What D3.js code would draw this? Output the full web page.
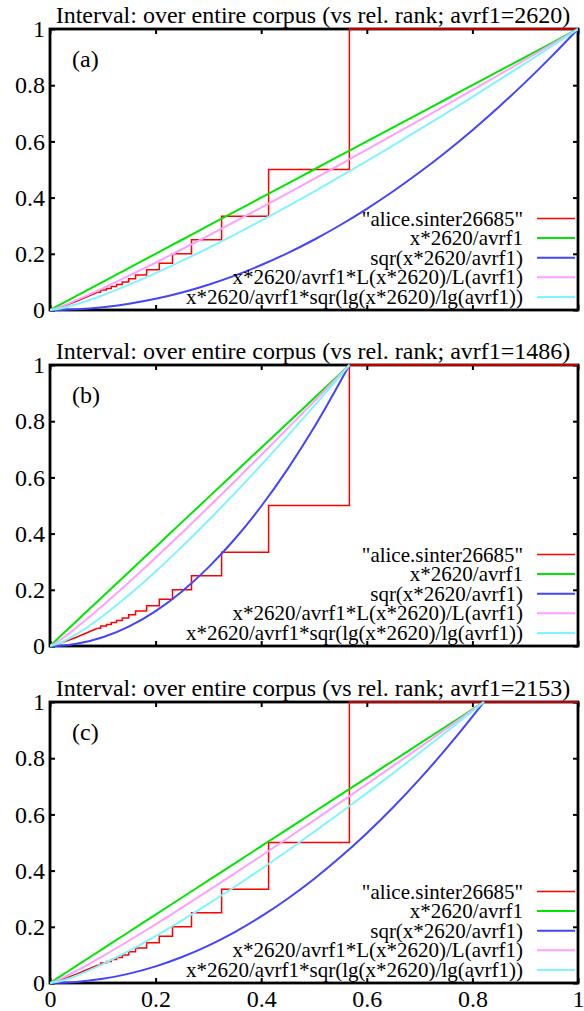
<!DOCTYPE html>
<html><head><meta charset="utf-8">
<script src="https://cdn.jsdelivr.net/npm/d3@7"></script>
<style>
body{margin:0;background:#fff}
svg{display:block}
text{font-family:"Liberation Serif","Times New Roman",serif;fill:#000}
</style>
</head><body>
<svg id="chart" width="584" height="1011"></svg>
<script>
// ---------------- data ----------------
const xTicks = [0, 0.2, 0.4, 0.6, 0.8, 1];
const xTickLabels = ["0", "0.2", "0.4", "0.6", "0.8", "1"];
const yTicks = [0, 0.2, 0.4, 0.6, 0.8, 1];
const yTickLabels = ["0", "0.2", "0.4", "0.6", "0.8", "1"];

const panelTitles = [
  "Interval: over entire corpus (vs rel. rank; avrf1=2620)",
  "Interval: over entire corpus (vs rel. rank; avrf1=1486)",
  "Interval: over entire corpus (vs rel. rank; avrf1=2153)"
];
const panelLabels = ["(a)", "(b)", "(c)"];
const seriesNames = [
  "\"alice.sinter26685\"",
  "x*2620/avrf1",
  "sqr(x*2620/avrf1)",
  "x*2620/avrf1*L(x*2620)/L(avrf1)",
  "x*2620/avrf1*sqr(lg(x*2620)/lg(avrf1))"
];

// measured staircase (same file in all three panels)
const redSmoothX = [0, 0.01, 0.02, 0.03, 0.04, 0.05, 0.06, 0.07, 0.08, 0.09];
const redSmoothY = [0, 0.005, 0.011, 0.017, 0.024, 0.031, 0.039, 0.047, 0.055, 0.063];
const redStepX = [0.09, 0.096, 0.107, 0.116, 0.126, 0.137, 0.149, 0.162, 0.183, 0.207, 0.232, 0.268, 0.325, 0.414, 0.567, 1];
const redStepY = [0.063, 0.0714, 0.0769, 0.0833, 0.0909, 0.1, 0.1111, 0.125, 0.1429, 0.1667, 0.2, 0.25, 0.3333, 0.5, 1, 1];

// panel (a): avrf1 = 2620
const xA = [0, 0.02, 0.05, 0.1, 0.15, 0.2, 0.25, 0.3, 0.35, 0.4, 0.45, 0.5, 0.55, 0.6, 0.65, 0.7, 0.75, 0.8, 0.85, 0.9, 0.95, 1];
const greenA = [0, 0.02, 0.05, 0.1, 0.15, 0.2, 0.25, 0.3, 0.35, 0.4, 0.45, 0.5, 0.55, 0.6, 0.65, 0.7, 0.75, 0.8, 0.85, 0.9, 0.95, 1];
const blueA = [0, 0.0004, 0.0025, 0.01, 0.0225, 0.04, 0.0625, 0.09, 0.1225, 0.16, 0.2025, 0.25, 0.3025, 0.36, 0.4225, 0.49, 0.5625, 0.64, 0.7225, 0.81, 0.9025, 1];
const pinkA = [0, 0.0119, 0.0349, 0.0771, 0.122, 0.1685, 0.2162, 0.2649, 0.3144, 0.3645, 0.4153, 0.4666, 0.5184, 0.5705, 0.6231, 0.6761, 0.7293, 0.783, 0.8368, 0.8909, 0.9453, 1];
const cyanA = [0, 0.0056, 0.0206, 0.0527, 0.0901, 0.131, 0.1747, 0.2207, 0.2686, 0.3181, 0.3692, 0.4216, 0.4752, 0.53, 0.5857, 0.6425, 0.7, 0.7586, 0.8179, 0.8778, 0.9386, 1];

// panel (b): avrf1 = 1486
const xB = [0, 0.02, 0.05, 0.1, 0.15, 0.2, 0.25, 0.3, 0.35, 0.4, 0.45, 0.5, 0.5672];
const greenB = [0, 0.0353, 0.0882, 0.1763, 0.2645, 0.3526, 0.4408, 0.5289, 0.6171, 0.7053, 0.7934, 0.8816, 1];
const blueB = [0, 0.0012, 0.0078, 0.0311, 0.0699, 0.1243, 0.1943, 0.2798, 0.3808, 0.4974, 0.6295, 0.7772, 1];
const pinkB = [0, 0.0223, 0.0651, 0.1438, 0.2274, 0.3142, 0.4031, 0.494, 0.5862, 0.6798, 0.7745, 0.8701, 1];
const cyanB = [0, 0.0114, 0.0417, 0.1067, 0.1823, 0.2652, 0.3537, 0.4468, 0.5438, 0.6441, 0.7475, 0.8534, 1];

// panel (c): avrf1 = 2153
const xC = [0, 0.02, 0.05, 0.1, 0.15, 0.2, 0.25, 0.3, 0.35, 0.4, 0.45, 0.5, 0.55, 0.6, 0.65, 0.7, 0.75, 0.8, 0.8218];
const greenC = [0, 0.0243, 0.0609, 0.1217, 0.1825, 0.2434, 0.3042, 0.3651, 0.4259, 0.4868, 0.5476, 0.6085, 0.6693, 0.7302, 0.791, 0.8518, 0.9127, 0.9735, 1];
const blueC = [0, 0.0006, 0.0037, 0.0148, 0.0333, 0.0592, 0.0926, 0.1333, 0.1814, 0.2369, 0.2999, 0.3702, 0.448, 0.5331, 0.6257, 0.7256, 0.833, 0.9478, 1];
const pinkC = [0, 0.0148, 0.0433, 0.0957, 0.1513, 0.2089, 0.2681, 0.3285, 0.3899, 0.4521, 0.515, 0.5787, 0.6429, 0.7076, 0.7728, 0.8385, 0.9045, 0.971, 1];
const cyanC = [0, 0.0072, 0.0263, 0.0672, 0.1148, 0.167, 0.2228, 0.2814, 0.3425, 0.4057, 0.4707, 0.5376, 0.6061, 0.6757, 0.7468, 0.8192, 0.8926, 0.9672, 1];

// ---------------- layout / style ----------------
const colors = ["#ff0000", "#00e600", "#4444ff", "#ffa0ff", "#80f4ff"];
const widths = [1.5, 2, 2, 2, 2];
const left = 50, right = 578, plotH = 281;
const tops = [29, 365, 702];
const serif = "'Liberation Serif', 'Times New Roman', serif";

const panels = [
  {x: xA, series: [greenA, blueA, pinkA, cyanA]},
  {x: xB, series: [greenB, blueB, pinkB, cyanB]},
  {x: xC, series: [greenC, blueC, pinkC, cyanC]}
];

const svg = d3.select("#chart");

panels.forEach((p, pi) => {
  const top = tops[pi], bottom = top + plotH;
  const x = d3.scaleLinear().domain([0, 1]).range([left, right]);
  const y = d3.scaleLinear().domain([0, 1]).range([bottom, top]);
  const g = svg.append("g");

  const cid = "clip" + pi;
  g.append("clipPath").attr("id", cid).append("rect")
    .attr("x", left).attr("y", top - 2).attr("width", right - left).attr("height", plotH + 4);

  // axes (inward ticks, mirrored)
  const yl = g.append("g").attr("transform", `translate(${left},0)`)
    .call(d3.axisLeft(y).tickValues(yTicks).tickSize(-5).tickPadding(5)
      .tickFormat((d, i) => yTickLabels[i]));
  const yr = g.append("g").attr("transform", `translate(${right},0)`)
    .call(d3.axisRight(y).tickValues(yTicks).tickSize(-5).tickFormat(""));
  const xt = g.append("g").attr("transform", `translate(0,${top})`)
    .call(d3.axisTop(x).tickValues(xTicks).tickSize(-5).tickFormat(""));
  const xb = g.append("g").attr("transform", `translate(0,${bottom})`)
    .call(d3.axisBottom(x).tickValues(xTicks).tickSize(-5).tickPadding(7)
      .tickFormat((d, i) => pi === 2 ? xTickLabels[i] : ""));
  [yl, yr, xt, xb].forEach(a => {
    a.attr("font-family", serif);
    a.select(".domain").remove();
    a.selectAll(".tick line").attr("stroke", "#000").attr("stroke-width", 2);
    a.selectAll(".tick text").style("font-family", serif).style("font-size", "24px").attr("fill", "#000");
  });

  // border
  g.append("rect").attr("x", left).attr("y", top).attr("width", right - left).attr("height", plotH)
    .attr("fill", "none").attr("stroke", "#000").attr("stroke-width", 2.8);

  // title and panel label
  g.append("text").attr("x", (left + right) / 2 - 1).attr("y", top - 6)
    .attr("text-anchor", "middle").style("font-family", serif).style("font-size", "24px").text(panelTitles[pi]);
  g.append("text").attr("x", 72).attr("y", top + 38)
    .style("font-family", serif).style("font-size", "24px").text(panelLabels[pi]);

  const plot = g.append("g").attr("clip-path", `url(#${cid})`);

  // red staircase
  const lin = d3.line().x(d => x(d[0])).y(d => y(d[1]));
  const step = d3.line().x(d => x(d[0])).y(d => y(d[1])).curve(d3.curveStepAfter);
  plot.append("path").datum(redSmoothX.map((v, i) => [v, redSmoothY[i]]))
    .attr("d", lin).attr("fill", "none").attr("stroke", colors[0]).attr("stroke-width", widths[0]);
  plot.append("path").datum(redStepX.map((v, i) => [v, redStepY[i]]))
    .attr("d", step).attr("fill", "none").attr("stroke", colors[0]).attr("stroke-width", widths[0]);

  // model curves
  const smooth = d3.line().x(d => x(d[0])).y(d => y(d[1])).curve(d3.curveMonotoneX);
  p.series.forEach((s, si) => {
    plot.append("path").datum(p.x.map((v, i) => [v, s[i]]))
      .attr("d", smooth).attr("fill", "none")
      .attr("stroke", colors[si + 1]).attr("stroke-width", widths[si + 1]);
  });

  // legend
  seriesNames.forEach((name, i) => {
    const ly = top + 189.5 + i * 19.6;
    g.append("text").attr("x", 523).attr("y", ly + 7).attr("text-anchor", "end")
      .style("font-family", serif).style("font-size", "21px").text(name);
    g.append("line").attr("x1", 537).attr("x2", 575).attr("y1", ly).attr("y2", ly)
      .attr("stroke", colors[i]).attr("stroke-width", widths[i]);
  });
});
</script>
</body></html>
